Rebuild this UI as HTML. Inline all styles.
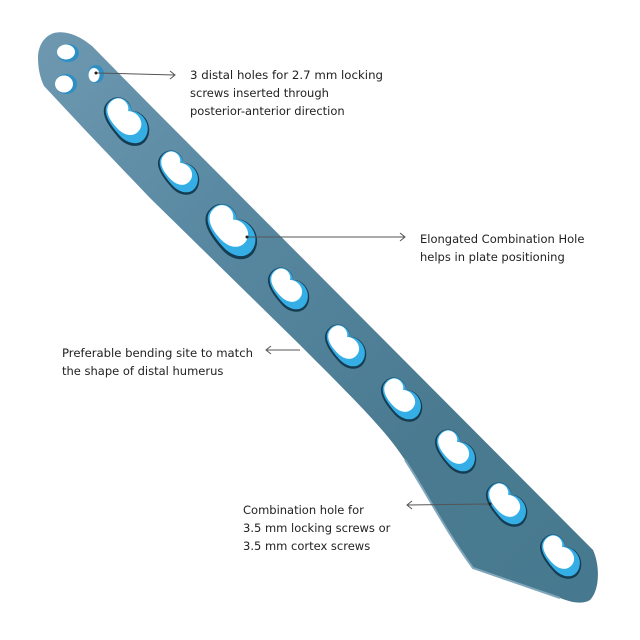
<!DOCTYPE html>
<html><head><meta charset="utf-8"><style>
html,body{margin:0;padding:0;background:#fff;}
svg{display:block}
text{font-family:"DejaVu Sans","Liberation Sans",sans-serif;font-size:11.5px;fill:#222}
</style></head><body>
<svg width="640" height="640" viewBox="0 0 640 640" xmlns="http://www.w3.org/2000/svg">
<defs>
<linearGradient id="pl" x1="0" y1="0" x2="1" y2="1">
<stop offset="0" stop-color="#6e98b0"/>
<stop offset="0.3" stop-color="#5a8aa3"/>
<stop offset="0.7" stop-color="#4a7a90"/>
<stop offset="1" stop-color="#46798f"/>
</linearGradient>
<g id="hole">
<path d="M-26,0 C-26,-14 -10,-16 -5,-9 C0,-16 16,-16 22,-4 C28,8 16,18 2,16 C-12,15 -26,12 -26,0Z" fill="#163c52"/>
<path d="M-25,-1 C-25,-14 -10,-15 -5,-9 C0,-15 15,-15 20,-4 C25,7 15,15 2,14 C-12,13 -25,10 -25,-1Z" fill="#35aee6"/>
<path d="M-24,-2 C-24,-13 -11,-14 -7,-7 C-3,-12 9,-12 12,-4 C15,5 8,11 -2,11 C-13,11 -24,8 -24,-2Z" fill="#fff"/>
</g>
</defs>
<path d="M38,58 C38,46 44,36 54,33 C66,30 80,36 92,46 L150,105 L593,550 C600,565 600,590 590,600 C582,605 570,602 560,598 L473,568 C445,530 425,490 405,460 C385,430 360,405 300,345 L150,198 L87,132 L44,86 C40,78 38,68 38,58 Z" fill="url(#pl)"/>
<path d="M405,460 C425,490 445,530 473,568 L560,598" fill="none" stroke="#7fa6bb" stroke-width="2"/>
<ellipse cx="68" cy="53" rx="11" ry="9" fill="#2d8fc4"/><ellipse cx="66" cy="52" rx="9" ry="7.5" fill="#fff"/>
<ellipse cx="66" cy="84" rx="11" ry="10" fill="#2d8fc4"/><ellipse cx="64" cy="84" rx="9" ry="8.5" fill="#fff"/>
<ellipse cx="96" cy="74" rx="8" ry="9" fill="#2d8fc4"/><ellipse cx="94" cy="75" rx="5.5" ry="7" fill="#fff"/>
<use href="#hole" transform="translate(128,122) rotate(45) scale(1.1)"/>
<use href="#hole" transform="translate(180,173) rotate(45) scale(1.0)"/>
<use href="#hole" transform="translate(233,232) rotate(45) scale(1.25)"/>
<use href="#hole" transform="translate(290,290) rotate(45) scale(1.0)"/>
<use href="#hole" transform="translate(347,347) rotate(45) scale(1.0)"/>
<use href="#hole" transform="translate(403,400) rotate(45) scale(1.0)"/>
<use href="#hole" transform="translate(457,452) rotate(45) scale(1.0)"/>
<use href="#hole" transform="translate(508,505) rotate(45) scale(1.0)"/>
<use href="#hole" transform="translate(562,557) rotate(45) scale(1.0)"/>
<g stroke="#555" stroke-width="1" fill="none">
<path d="M96,73 L175,75 M170,71 L175,75 L170,79"/>
<path d="M247,237 L405,237 M400,233 L405,237 L400,241"/>
<path d="M300,350 L266,350 M271,346 L266,350 L271,354"/>
<path d="M490,504 L407,505 M412,501 L407,505 L412,509"/>
</g>
<circle cx="96" cy="73" r="1.5" fill="#222"/><circle cx="247" cy="237" r="1.5" fill="#222"/><circle cx="490" cy="504" r="1.5" fill="#222"/>
<text x="190" y="79" textLength="193" lengthAdjust="spacingAndGlyphs">3 distal holes for 2.7 mm locking</text>
<text x="190" y="97">screws inserted through</text>
<text x="190" y="115">posterior-anterior direction</text>
<text x="420" y="243">Elongated Combination Hole</text>
<text x="420" y="261">helps in plate positioning</text>
<text x="62" y="357" textLength="191" lengthAdjust="spacingAndGlyphs">Preferable bending site to match</text>
<text x="62" y="375">the shape of distal humerus</text>
<text x="243" y="514">Combination hole for</text>
<text x="243" y="532">3.5 mm locking screws or</text>
<text x="243" y="550">3.5 mm cortex screws</text>
</svg>
</body></html>
